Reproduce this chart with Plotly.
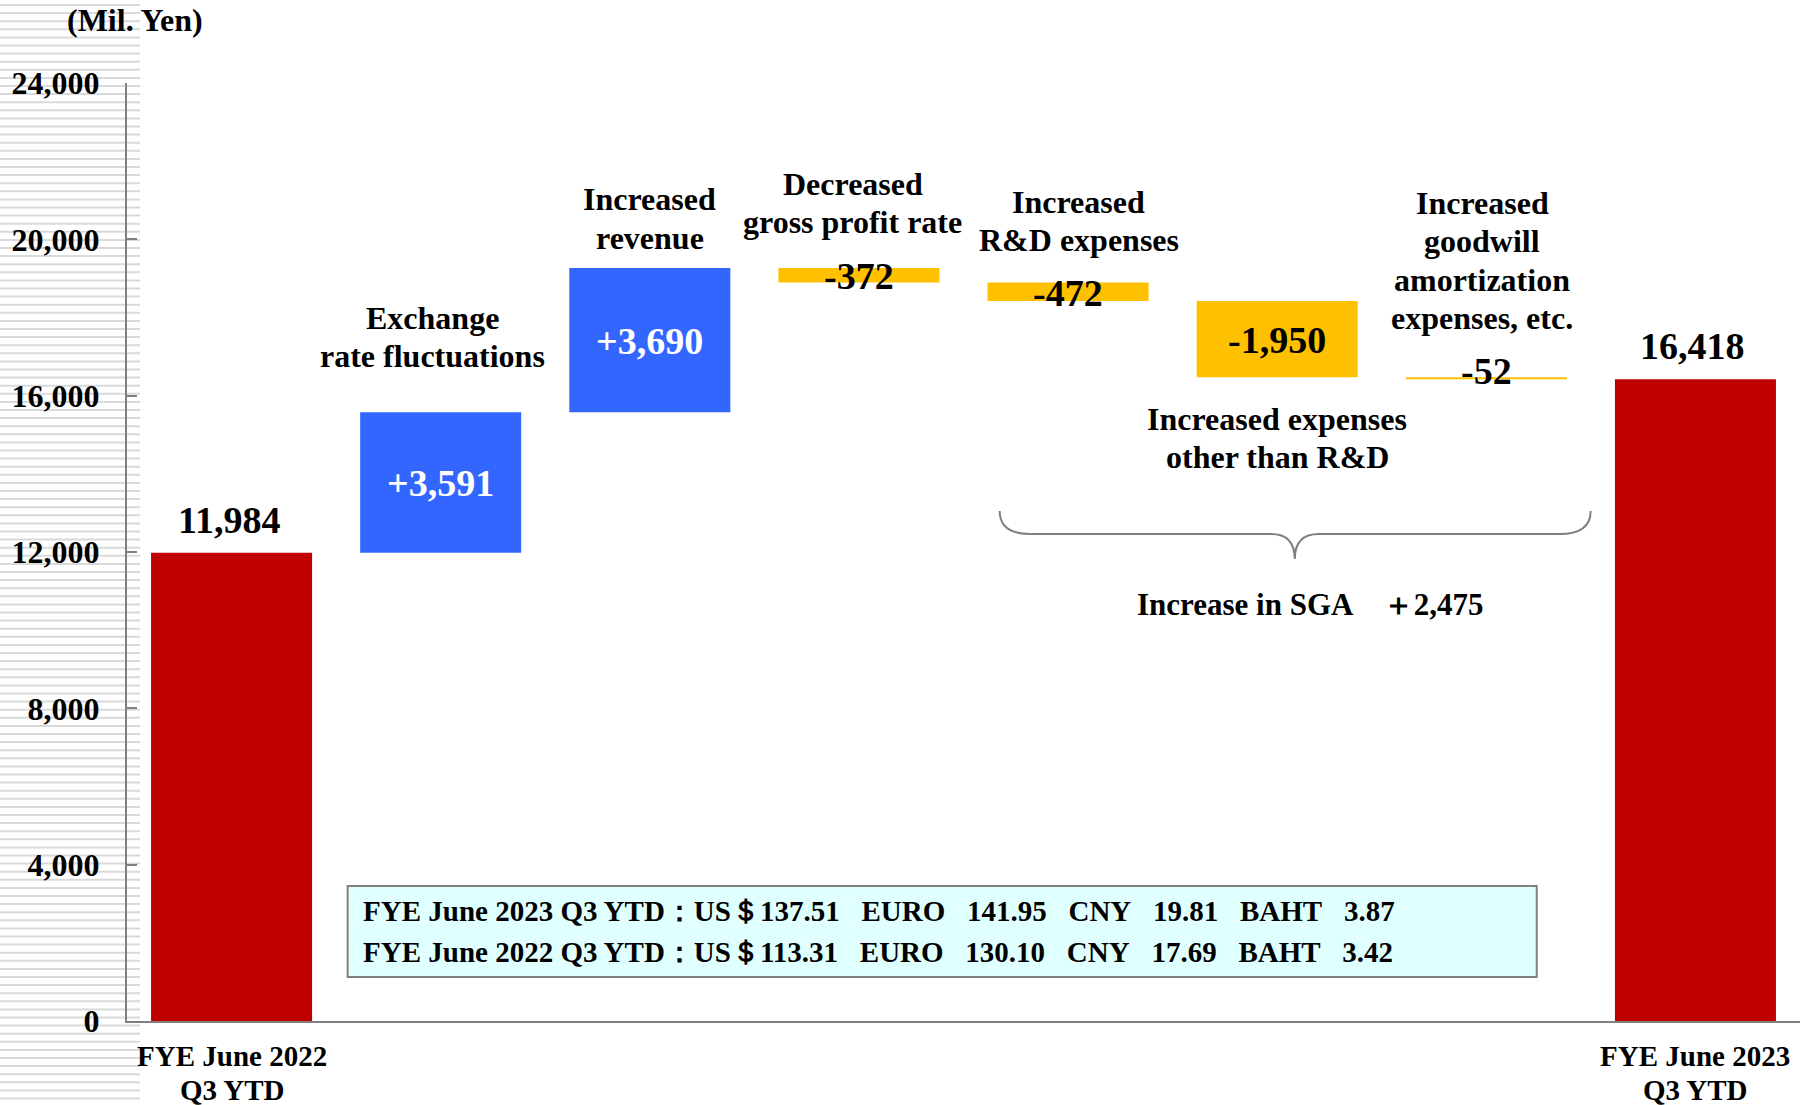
import plotly.graph_objects as go

# ---------------- data ----------------
categories = ["FYE June 2022<br>Q3 YTD",
              "Exchange<br>rate fluctuations",
              "Increased<br>revenue",
              "Decreased<br>gross profit rate",
              "Increased<br>R&D expenses",
              "Increased expenses<br>other than R&D",
              "Increased<br>goodwill<br>amortization<br>expenses, etc.",
              "FYE June 2023<br>Q3 YTD"]
measures = ["absolute", "relative", "relative", "relative",
            "relative", "relative", "relative", "absolute"]
values = [11984, 3591, 3690, -372, -472, -1950, -52, 16418]
value_labels = ["11,984", "+3,591", "+3,690", "-372", "-472", "-1,950", "-52", "16,418"]
y_tick_vals = [0, 4000, 8000, 12000, 16000, 20000, 24000]
y_tick_text = ["0", "4,000", "8,000", "12,000", "16,000", "20,000", "24,000"]
unit_label = "(Mil. Yen)"
sga_label = "Increase in SGA\u3000＋2,475"

rate_periods = ["FYE June 2023 Q3 YTD", "FYE June 2022 Q3 YTD"]
rate_usd = ["137.51", "113.31"]
rate_euro = ["141.95", "130.10"]
rate_cny = ["19.81", "17.69"]
rate_baht = ["3.87", "3.42"]

# ---------------- style ----------------
FONT = "Liberation Serif, Times New Roman, serif"
RED = "#C00000"
BLUE = "#3366FF"
YELLOW = "#FFC000"
GREY = "#808080"

x_pos = list(range(len(values)))

fig = go.Figure()
fig.add_trace(go.Waterfall(
    x=x_pos, y=values, measure=measures, width=0.77,
    increasing=dict(marker=dict(color=BLUE)),
    decreasing=dict(marker=dict(color=YELLOW)),
    totals=dict(marker=dict(color=RED)),
    connector=dict(visible=False),
    textinfo="none", hoverinfo="skip", showlegend=False,
))

# compute bar extents from the data
bases, tops = [], []
running = 0
for v, m in zip(values, measures):
    if m == "absolute":
        b, t = 0, v
        running = v
    else:
        b, t = running, running + v
        running = t
    bases.append(b)
    tops.append(t)

annotations = []
# value labels
for i, lab in enumerate(value_labels):
    if measures[i] == "absolute":
        annotations.append(dict(x=i, y=tops[i], text=lab, showarrow=False,
                                yanchor="middle", yshift=33, xshift=-3,
                                font=dict(family=FONT, size=38, color="black", weight="bold")))
    else:
        col = "white" if values[i] > 0 else "black"
        ysh = 7 if abs(values[i]) < 100 else -1
        annotations.append(dict(x=i, y=(bases[i] + tops[i]) / 2, text=lab, showarrow=False,
                                yanchor="middle", yshift=ysh,
                                font=dict(family=FONT, size=38, color=col, weight="bold")))


def add_lines(x, y, text, size, spacing):
    lines = text.split("<br>")
    n = len(lines)
    for j, ln in enumerate(lines):
        off = (j - (n - 1) / 2) * spacing
        annotations.append(dict(x=x, y=y, text=ln, showarrow=False,
                                yanchor="middle", xanchor="center", yshift=-off,
                                font=dict(family=FONT, size=size, color="black", weight="bold")))


# category labels above bars
cat_label_pos = {1: (0.96, 17501), 2: (2.0, 20532), 3: (2.97, 20929),
                 4: (4.05, 20469), 5: (5.0, 14917), 6: (5.98, 19458)}
for i, (cx, cy) in cat_label_pos.items():
    add_lines(cx, cy, categories[i], 32, 38.4)

# bottom category labels
for i in (0, len(categories) - 1):
    lines = categories[i].split("<br>")
    for j, ln in enumerate(lines):
        annotations.append(dict(x=i, y=0, text=ln, showarrow=False,
                                yanchor="middle", yshift=-(35 + 34 * j),
                                font=dict(family=FONT, size=29, color="black", weight="bold")))

# SGA label
annotations.append(dict(x=5.155, y=10669, text=sga_label, showarrow=False,
                        yanchor="middle",
                        font=dict(family=FONT, size=31, color="black", weight="bold")))
# unit label
annotations.append(dict(x=0.005, y=1.067, xref="paper", yref="paper", text=unit_label,
                        showarrow=False, xanchor="center", yanchor="middle",
                        font=dict(family=FONT, size=32, color="black", weight="bold")))

# exchange-rate box text
sp = "\u00a0\u00a0\u00a0"
rate_y = [2814, 1765]
for k in range(len(rate_periods)):
    txt = (f"{rate_periods[k]}：US＄{rate_usd[k]}{sp}EURO{sp}{rate_euro[k]}{sp}"
           f"CNY{sp}{rate_cny[k]}{sp}BAHT{sp}{rate_baht[k]}")
    annotations.append(dict(x=0.62, y=rate_y[k], text=txt, showarrow=False,
                            xanchor="left", yanchor="middle",
                            font=dict(family=FONT, size=29, color="black", weight="bold")))

shapes = []
# hatched background on the left
L, R, T, B = 127, 1800, 83, 1021
def px_to_paper_x(px):
    return (px - L) / (R - L)
def px_to_paper_y(py):
    return (B - py) / (B - T)
path = ""
py = 5.0
while py < 1105:
    path += f"M{px_to_paper_x(0):.5f},{px_to_paper_y(py):.5f} L{px_to_paper_x(140):.5f},{px_to_paper_y(py):.5f} "
    py += 8.1
shapes.append(dict(type="path", path=path, xref="paper", yref="paper",
                   line=dict(color="#DADADA", width=2), layer="below"))

# exchange rate box
shapes.append(dict(type="rect", x0=0.555, x1=6.241, y0=1126, y1=3454, xref="x", yref="y",
                   fillcolor="#E0FFFF", line=dict(color=GREY, width=2), layer="above"))

# brace under SGA items
brace = ("M 3.673,13049 Q 3.673,12460 3.82,12460 L 4.97,12460 "
         "Q 5.084,12460 5.084,11821 Q 5.084,12460 5.2,12460 L 6.35,12460 "
         "Q 6.499,12460 6.499,13049")
shapes.append(dict(type="path", path=brace, xref="x", yref="y",
                   line=dict(color=GREY, width=2)))

fig.update_layout(
    width=1808, height=1105,
    margin=dict(l=L, r=1808 - R, t=T, b=1105 - B),
    paper_bgcolor="white", plot_bgcolor="white",
    xaxis=dict(range=[-0.5, 7.5], showgrid=False, zeroline=False, showline=True,
               linecolor=GREY, linewidth=2, showticklabels=False, ticks=""),
    yaxis=dict(range=[0, 24000], showgrid=False, zeroline=False, showline=True,
               linecolor=GREY, linewidth=2, ticks="inside", ticklen=10, tickcolor=GREY,
               tickwidth=2, tickvals=y_tick_vals, ticktext=y_tick_text,
               ticklabelstandoff=19,
               tickfont=dict(family=FONT, size=32, color="black", weight="bold")),
    annotations=annotations,
    shapes=shapes,
    showlegend=False,
)

fig.write_html("out.html")
